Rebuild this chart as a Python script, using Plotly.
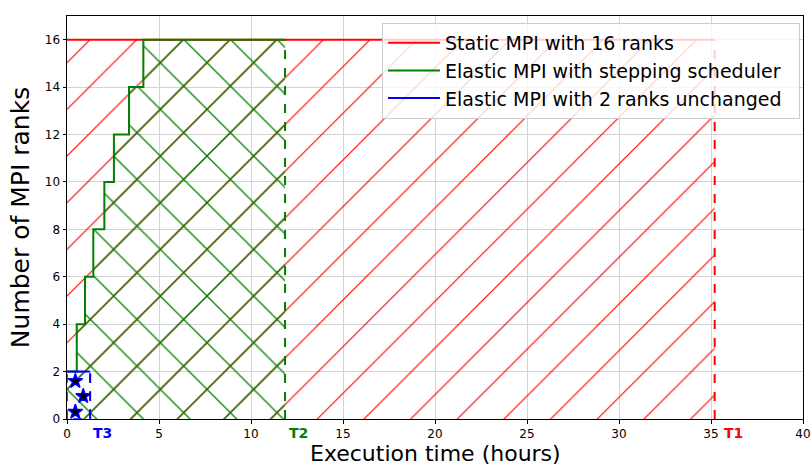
import plotly.graph_objects as go

# ---- data (hours / MPI ranks) ----
T1 = 35.2   # static MPI, 16 ranks
T2 = 11.85  # elastic MPI, stepping scheduler
T3 = 1.26   # elastic MPI, 2 ranks unchanged
static_ranks = 16
small_ranks = 2
step_times = [0.0, 0.53, 0.98, 1.43, 2.03, 2.55, 3.37, 4.15]
step_ranks = [2, 4, 6, 8, 10, 12, 14, 16]
x_ticks = [0, 5, 10, 15, 20, 25, 30, 35, 40]
y_ticks = [0, 2, 4, 6, 8, 10, 12, 14, 16]
legend_names = ["Static MPI with 16 ranks",
                "Elastic MPI with stepping scheduler",
                "Elastic MPI with 2 ranks unchanged"]
x_title = "Execution time (hours)"
y_title = "Number of MPI ranks"
RED, GREEN, BLUE = "#ff0000", "#008000", "#0000ff"

# build step outline
gx, gy = [], []
for i, (t, r) in enumerate(zip(step_times, step_ranks)):
    gx.append(t); gy.append(r)
    nxt = step_times[i + 1] if i + 1 < len(step_times) else T2
    gx.append(nxt); gy.append(r)

fig = go.Figure()
clear = "rgba(0,0,0,0)"

# red hatched region
fig.add_trace(go.Scatter(
    x=[0, 0, T1, T1, 0], y=[0, static_ranks, static_ranks, 0, 0],
    fill="toself", fillcolor=clear, mode="lines", line=dict(width=0),
    fillpattern=dict(shape="/", fgcolor=RED, bgcolor=clear, fgopacity=1, size=33, solidity=0.035),
    showlegend=False, hoverinfo="skip"))
# green hatched region
fig.add_trace(go.Scatter(
    x=[0] + gx + [T2, 0], y=[0] + gy + [0, 0],
    fill="toself", fillcolor=clear, mode="lines", line=dict(width=0),
    fillpattern=dict(shape="x", fgcolor=GREEN, bgcolor=clear, fgopacity=1, size=33, solidity=0.075),
    showlegend=False, hoverinfo="skip"))
# blue region outline (dashed)
fig.add_trace(go.Scatter(
    x=[0, 0, T3, T3, 0], y=[0, small_ranks, small_ranks, 0, 0],
    fill="toself", fillcolor=clear, mode="lines",
    line=dict(color=BLUE, width=1.5, dash="dash"),
    showlegend=False, hoverinfo="skip"))
# star hatch inside blue region
fig.add_trace(go.Scatter(
    x=[T3 * 0.36, T3 * 0.70, T3 * 0.36], y=[small_ranks * 0.80, small_ranks * 0.48, small_ranks * 0.15],
    mode="markers", marker=dict(symbol="star", size=11, color="black", line=dict(color=BLUE, width=1.5)),
    showlegend=False, hoverinfo="skip"))

# dashed end lines
for T, top, c in [(T1, static_ranks, RED), (T2, static_ranks, GREEN), (T3, small_ranks, BLUE)]:
    fig.add_trace(go.Scatter(x=[T, T], y=[0, top], mode="lines",
                             line=dict(color=c, width=2, dash="dash"),
                             showlegend=False, hoverinfo="skip"))

# solid lines (legend)
pad = "\u00a0\u00a0"
fig.add_trace(go.Scatter(x=[0, T1], y=[static_ranks, static_ranks], mode="lines",
                         line=dict(color=RED, width=2), name=legend_names[0] + pad, legendgroup="a"))
fig.add_trace(go.Scatter(x=gx, y=gy, mode="lines",
                         line=dict(color=GREEN, width=2), name=legend_names[1] + pad, legendgroup="b"))
fig.add_trace(go.Scatter(x=[0, T3], y=[small_ranks, small_ranks], mode="lines",
                         line=dict(color=BLUE, width=2), name=legend_names[2] + pad, legendgroup="c"))

# T labels
for T, lab, c, xs in [(T3, "T3", BLUE, 1), (T2, "T2", GREEN, 2), (T1, "T1", RED, 7)]:
    fig.add_annotation(x=T, y=0, xref="x", yref="paper", text="<b>%s</b>" % lab,
                       showarrow=False, xanchor="left", yanchor="top", yshift=-4, xshift=xs,
                       font=dict(color=c, size=14, family="DejaVu Sans"))

# x-axis title as annotation (fixed position)
fig.add_annotation(x=0.5, y=0, xref="paper", yref="paper", text=x_title, showarrow=False,
                   xanchor="center", yanchor="middle", yshift=-34.5, borderpad=0,
                   font=dict(size=22, family="DejaVu Sans", color="black"))

axis_common = dict(showline=True, linecolor="black", linewidth=1, mirror=True,
                   ticks="outside", ticklen=3.5, tickcolor="black", automargin=False,
                   showgrid=True, gridcolor="#d3d3d3", gridwidth=1, zeroline=False,
                   tickfont=dict(size=12, family="DejaVu Sans", color="black"))
fig.update_xaxes(range=[0, 40], tickvals=x_ticks, ticktext=[str(v) for v in x_ticks],
                 **axis_common)
fig.update_yaxes(range=[0, 17], tickvals=y_ticks, ticktext=[str(v) for v in y_ticks],
                 title=dict(text=y_title, font=dict(size=25, family="DejaVu Sans", color="black"), standoff=8),
                 **axis_common)

fig.update_layout(
    width=811, height=468,
    margin=dict(l=67, r=8, t=16, b=49),
    plot_bgcolor="white", paper_bgcolor="white",
    font=dict(family="DejaVu Sans", color="black"),
    legend=dict(x=0.996, y=0.983, xanchor="right", yanchor="top",
                bgcolor="rgba(255,255,255,0.8)", bordercolor="#cccccc", borderwidth=1,
                font=dict(size=19, family="DejaVu Sans", color="black"),
                traceorder="grouped", tracegroupgap=0, itemwidth=52),
)

fig.write_html("out.html")
